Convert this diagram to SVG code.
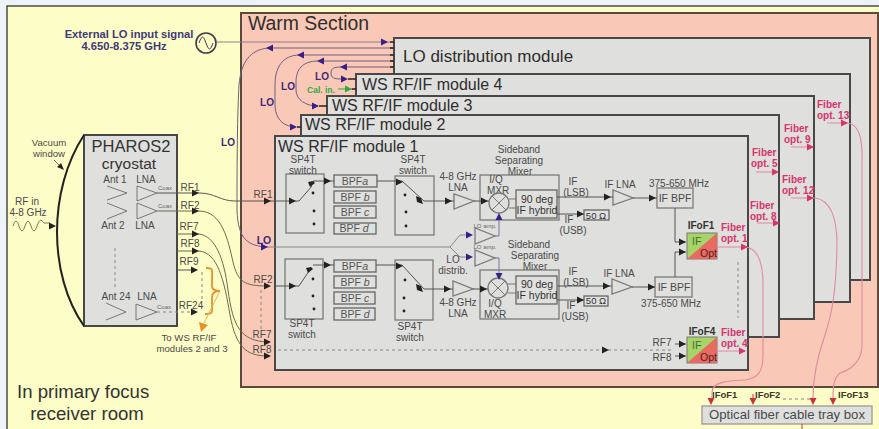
<svg xmlns="http://www.w3.org/2000/svg" width="879" height="429" viewBox="0 0 879 429">
<style>
text{font-family:"Liberation Sans",Arial,sans-serif;fill:#4a4a4a;font-size:10px}
.m{text-anchor:middle}
.b{fill:#dfdfdd;stroke:#484848;stroke-width:2}
.t{fill:#dfdfdd;stroke:#7a7a7a;stroke-width:1.3}
.f{fill:#dfdfdd;stroke:#666;stroke-width:1.3}
.h{font-size:16px;fill:#2e2e2e}
.lo{font-weight:bold;fill:#3f2a78;font-size:10px}
.p{fill:#d8336a;font-size:10px;font-weight:bold}
.s{font-size:6px;fill:#666}
.x{font-size:10.5px}
.bp{font-size:10.5px;fill:#555}
.c{fill:none;stroke:#777;stroke-width:1}
.cv{fill:none;stroke:#6f5f80;stroke-width:1}
.cr{fill:none;stroke:#6b6b50;stroke-width:1}
.cp{fill:none;stroke:#e08aa0;stroke-width:1.1}
.cd{fill:none;stroke:#888;stroke-width:1;stroke-dasharray:3 3}
.k{fill:#222}.v{fill:#3a1f8a}.r{fill:#d8336a}.d{fill:#c8323c}.g{fill:#2da84a}.o{fill:#e8912a}
.n{fill:#222}
.lb{font-size:9.6px}
.ik{font-weight:bold;font-size:9.500px;fill:#3a3a2a}
</style>
<defs>
<path id="a" d="M-7-3.5L0 0L-7 3.5z"/>
<path id="l" d="M7-3.5L0 0L7 3.5z"/>
<path id="dn" d="M-3.5-7L0 0L3.5-7z"/>
<path id="up" d="M-3.5 7L0 0L3.5 7z"/>
</defs>
<rect width="879" height="429" fill="#eef3fa"/>
<rect x="7" y="6" width="880" height="430" fill="#fdfdc8" stroke="#222" stroke-width="1.2"/>
<g id="warm">
<rect x="241" y="13" width="637" height="374" fill="#fac8b6" stroke="#5a4a3c" stroke-width="2"/>
<text x="248" y="30" style="font-size:19.4px;fill:#2e2e2e">Warm Section</text>
</g>
<g id="room"><text x="17" y="398" style="font-size:18.6px;fill:#333">In primary focus</text><text x="87" y="420" class="m" style="font-size:18.6px;fill:#333">receiver room</text></g>
<g id="ext-lo"><text x="129" y="38" class="m" style="font-size:11.2px;font-weight:bold;fill:#3f3a78">External LO input signal</text><text x="124" y="50" class="m" style="font-size:11.2px;font-weight:bold;fill:#3f3a78">4.650-8.375 GHz</text>
<circle cx="206" cy="43" r="10" fill="none" stroke="#443a50" stroke-width="1.6"/><path d="M199 43q3.500-12 7 0t7 0" fill="none" stroke="#443a50"/></g>
<g id="lo-dist"><rect class="b" x="394" y="38" width="476" height="242"/><text class="h" x="403" y="62" style="font-size:17px">LO distribution module</text></g>
<g id="mod4"><rect class="b" x="356" y="74" width="494" height="228"/><text class="h" x="362" y="90">WS RF/IF module 4</text></g>
<g id="mod3"><rect class="b" x="327" y="96" width="487" height="223"/><text class="h" x="332" y="111">WS RF/IF module 3</text></g>
<g id="mod2"><rect class="b" x="301" y="115" width="478" height="222"/><text class="h" x="305" y="130">WS RF/IF module 2</text></g>
<g id="mod1"><rect class="b" x="275" y="136" width="473" height="234"/><text class="h" x="278" y="152">WS RF/IF module 1</text></g>
<g id="cryostat">
<path d="M84 135L177 135L177 326L84 326Z" class="b"/>
<path d="M84 135C48 190 48 275 84 326" fill="none" stroke="#222" stroke-width="2"/>
<text x="131" y="152" class="m" style="font-size:16.500px;fill:#333">PHAROS2</text><text x="129" y="169" class="m" style="font-size:15.500px;fill:#333">cryostat</text>
<text x="115" y="183" class="m">Ant 1</text><text x="146" y="183" class="m">LNA</text>
<text x="113" y="229" class="m">Ant 2</text><text x="145" y="229" class="m">LNA</text>
<text x="116" y="300" class="m">Ant 24</text><text x="147" y="300" class="m">LNA</text>
<path class="c" d="M107 186L127 193L107 200M107 203L127 211L107 219M106 303L126 312L106 320M137 186V201L157 193ZM137 203V219L157 211ZM136 304V320L157 312Z"/>
<path class="cd" d="M115 248V290"/>
<text x="158" y="190" class="s">Coax</text><text x="158" y="208" class="s">Coax</text><text x="157" y="309" class="s">Coax</text>
</g>
<g id="vac"><text x="49" y="146" class="m lb">Vacuum</text><text x="49" y="157" class="m lb">window</text>
<text x="27" y="205" class="m">RF in</text><text x="28" y="216" class="m">4-8 GHz</text>
<path class="c" d="M54 160L62 168"/><path class="k" d="M64 170L57 167L61 163z"/>
<path d="M13 226q3-10 6 0t6 0t6 0t6 0t7-3H50" fill="none" stroke="#7a7a50"/><use href="#a" class="k" x="56" y="226"/></g>
<g id="rf-labels">
<text x="190" y="191" class="m">RF1</text><text x="190" y="209" class="m">RF2</text><text x="189" y="230" class="m">RF7</text><text x="190" y="247" class="m">RF8</text><text x="189" y="265" class="m">RF9</text><text x="191" y="309" class="m">RF24</text>
<text x="263" y="198" class="m">RF1</text><text x="263" y="283" class="m">RF2</text><text x="262" y="338" class="m">RF7</text><text x="262" y="353" class="m">RF8</text>
<text x="264" y="244" class="lo m" style="font-size:10.500px">LO</text>
<text x="189" y="341" class="m lb">To WS RF/IF</text><text x="192" y="352" class="m lb">modules 2 and 3</text>
</g>
<g id="upper-chain">
<rect class="t" x="286" y="174" width="38" height="59" style="fill:none"/>
<rect class="t" x="395" y="176" width="39" height="59" style="fill:none"/>
<text x="303" y="163" class="m">SP4T</text><text x="303" y="174" class="m">switch</text>
<text x="413" y="163" class="m">SP4T</text><text x="413" y="174" class="m">switch</text>
<rect class="f" x="334" y="175" width="43" height="12"/><rect class="f" x="334" y="191" width="42" height="12"/><rect class="f" x="334" y="206" width="42" height="12"/><rect class="f" x="334" y="223" width="42" height="11"/>
<text x="355" y="185" class="m bp">BPF<tspan font-style="italic">a</tspan></text><text x="355" y="201" class="m bp">BPF <tspan font-style="italic">b</tspan></text><text x="355" y="216" class="m bp">BPF <tspan font-style="italic">c</tspan></text><text x="354" y="232" class="m bp">BPF <tspan font-style="italic">d</tspan></text>
<text x="458" y="180" class="m">4-8 GHz</text><text x="458" y="191" class="m">LNA</text>
<path class="t" style="fill:none" d="M454 194V209L474 201Z"/>
<rect class="t" x="480" y="175" width="79" height="45" style="fill:none"/>
<text x="519" y="153" class="m">Sideband</text><text x="519" y="164" class="m">Separating</text><text x="520" y="175" class="m">Mixer</text>
<text x="496" y="183" class="m">I/Q</text><text x="498" y="194" class="m">MXR</text>
<circle cx="499" cy="203" r="10" class="t" style="fill:none"/><path class="c" d="M492 196L506 210M506 196L492 210M509 199H517M509 208H517"/>
<rect class="f" x="516" y="190" width="41" height="28"/>
<text x="537" y="203" class="m x" style="fill:#333">90 deg</text><text x="537" y="214" class="m x" style="fill:#333">IF hybrid</text>
<text x="573" y="185" class="m">IF</text><text x="576" y="196" class="m">(LSB)</text><text x="569" y="223" class="m">IF</text><text x="573" y="234" class="m">(USB)</text>
<rect class="f" x="584" y="210" width="25" height="10"/><text x="596" y="219" class="m" style="font-size:9.500px;fill:#333">50 Ω</text>
<text x="620" y="188" class="m">IF LNA</text><path class="t" d="M613 190V205L633 198Z"/>
<text x="679" y="187" class="m">375-650 MHz</text><rect class="t" x="657" y="188" width="36" height="20"/><text x="675" y="202" class="m x">IF BPF</text>
<text x="485" y="228" class="m s">LO amp.</text><path class="t" d="M475 228V244L495 236Z"/>
<text x="485" y="249" class="m s">LO amp.</text><path class="t" d="M475 250V266L495 258Z"/>
<text x="453" y="263" class="m">LO</text><text x="453" y="274" class="m">distrib.</text>
</g>
<g id="lower-chain">
<rect class="t" x="285" y="259" width="38" height="60" style="fill:none"/>
<rect class="t" x="395" y="260" width="38" height="60" style="fill:none"/>
<text x="302" y="327" class="m">SP4T</text><text x="302" y="338" class="m">switch</text>
<text x="410" y="330" class="m">SP4T</text><text x="410" y="341" class="m">switch</text>
<rect class="f" x="334" y="260" width="42" height="12"/><rect class="f" x="334" y="276" width="42" height="12"/><rect class="f" x="334" y="292" width="41" height="12"/><rect class="f" x="334" y="308" width="41" height="12"/>
<text x="355" y="270" class="m bp">BPF<tspan font-style="italic">a</tspan></text><text x="355" y="286" class="m bp">BPF <tspan font-style="italic">b</tspan></text><text x="355" y="302" class="m bp">BPF <tspan font-style="italic">c</tspan></text><text x="355" y="318" class="m bp">BPF <tspan font-style="italic">d</tspan></text>
<text x="458" y="306" class="m">4-8 GHz</text><text x="458" y="317" class="m">LNA</text>
<path class="t" style="fill:none" d="M453 281V296L473 289Z"/>
<rect class="t" x="480" y="270" width="79" height="49" style="fill:none"/>
<text x="529" y="248" class="m">Sideband</text><text x="535" y="259" class="m">Separating</text><text x="535" y="270" class="m">Mixer</text>
<text x="495" y="307" class="m">I/Q</text><text x="495" y="318" class="m">MXR</text>
<circle cx="498" cy="288" r="10" class="t" style="fill:none"/><path class="c" d="M491 281L505 295M505 281L491 295M508 284H516M508 293H516"/>
<rect class="f" x="516" y="276" width="41" height="28"/>
<text x="537" y="288" class="m x" style="fill:#333">90 deg</text><text x="537" y="299" class="m x" style="fill:#333">IF hybrid</text>
<text x="573" y="275" class="m">IF</text><text x="576" y="286" class="m">(LSB)</text><text x="571" y="309" class="m">IF</text><text x="575" y="320" class="m">(USB)</text>
<rect class="f" x="584" y="296" width="24" height="10"/><text x="596" y="304" class="m" style="font-size:9.500px;fill:#333">50 Ω</text>
<text x="619" y="277" class="m">IF LNA</text><path class="t" d="M612 279V294L632 287Z"/>
<rect class="t" x="655" y="277" width="37" height="20"/><text x="674" y="291" class="m x">IF BPF</text>
<text x="671" y="307" class="m">375-650 MHz</text>
<text x="662" y="346" class="m">RF7</text><text x="662" y="361" class="m">RF8</text>
</g>
<g id="ifof1"><rect x="687" y="233" width="30" height="26" fill="#a6d468" stroke="#777"/><path d="M717 233V259H687Z" fill="#e86a60"/><text x="692" y="245" style="font-size:10.500px;fill:#4a6a30">IF</text><text x="700" y="257" style="font-size:10.500px;fill:#5a2020">Opt</text><text x="701" y="229" class="m" style="font-weight:bold;font-size:10px;fill:#333">IFoF1</text></g>
<g id="ifof4"><rect x="687" y="337" width="30" height="26" fill="#a6d468" stroke="#777"/><path d="M717 337V363H687Z" fill="#e86a60"/><text x="692" y="349" style="font-size:10.500px;fill:#4a6a30">IF</text><text x="700" y="361" style="font-size:10.500px;fill:#5a2020">Opt</text><text x="702" y="335" class="m" style="font-weight:bold;font-size:10px;fill:#333">IFoF4</text></g>
<g id="fiber-labels">
<text class="p" x="721" y="231">Fiber</text><text class="p" x="721" y="242">opt. 1</text>
<text class="p" x="721" y="336">Fiber</text><text class="p" x="721" y="347">opt. 4</text>
<text class="p" x="752" y="156">Fiber</text><text class="p" x="751" y="167">opt. 5</text>
<text class="p" x="750" y="209">Fiber</text><text class="p" x="750" y="220">opt. 8</text>
<text class="p" x="784" y="132">Fiber</text><text class="p" x="784" y="143">opt. 9</text>
<text class="p" x="782" y="183">Fiber</text><text class="p" x="782" y="194">opt. 12</text>
<text class="p" x="817" y="108">Fiber</text><text class="p" x="817" y="119">opt. 13</text>
<text x="712" y="398" class="ik">IFoF1</text><text x="755" y="398" class="ik">IFoF2</text><text x="838" y="398" class="ik">IFoF13</text>
</g>
<g id="tray"><rect x="702" y="406" width="170" height="18" fill="#dfdfdd" stroke="#999" stroke-width="1.300"/><text x="787" y="419" class="m" style="font-size:13.200px">Optical fiber cable tray box</text></g>
<g id="lo-labels"><text x="322" y="80" class="lo m">LO</text><text x="288" y="90" class="lo m">LO</text><text x="267" y="106" class="lo m">LO</text><text x="228" y="146" class="lo m">LO</text><text x="321" y="93" class="m" style="font-size:8.500px;font-weight:bold;fill:#2da84a">Cal. in.</text></g>
<g id="connectors">
<path d="M217 42H390" fill="none" stroke="#8a7f90"/>
<path class="cv" d="M394 48H268C250 50 241 62 239 85C237 120 237 180 237 210C238 240 248 246 268 247"/>
<path class="cv" d="M394 55H300C282 55 275 68 275 85V105C275 120 285 127 296 127"/>
<path class="cv" d="M394 61H318C302 61 296 70 296 82V90C296 100 306 106 318 106"/>
<path class="cv" d="M394 67H340C332 67 331 70 331 73C331 78 334 79 342 79"/>
<path fill="none" stroke="#2da84a" d="M338 89H352"/>
<g class="v"><use href="#a" x="388" y="42"/><use href="#l" x="266" y="48"/><use href="#l" x="297" y="55"/><use href="#l" x="317" y="61"/><use href="#l" x="340" y="67"/><use href="#a" x="297" y="127"/><use href="#a" x="319" y="106"/><use href="#a" x="348" y="79"/><use href="#a" x="268" y="247"/></g>
<use href="#a" class="g" x="352" y="89"/>
<path d="M390 42H394M390 48H394M390 55H394M390 61H394M390 67H394M297 127H301M319 106H327M348 79H356M352 89H356" stroke="#222" fill="none" stroke-width="1.500"/>
<path d="M268 247H450L460 235H468M450 247L460 257H468" fill="none" stroke="#888"/>
<path d="M495 236H499V219M495 258H499V274" fill="none" stroke="#7a70a0"/>
<g class="v"><use href="#a" x="473" y="235"/><use href="#a" x="473" y="257"/><use href="#up" x="499" y="213"/><use href="#dn" x="499" y="280"/></g>
<path class="c" style="stroke:#555" d="M157 193H199C215 193 220 201 235 201H275H299L312 186M313 181H334M377 181H402L424 201H454M474 201H489M557 197H613M633 198H657M557 214H584"/>
<path class="c" style="stroke:#555" d="M275 286H299L311 268M313 265H334M376 265H402L424 289H453M473 289H488M557 286H612M632 287H655M557 300H584"/>
<path class="c" style="stroke:#555" d="M675 208V242H686M675 277V252H686M675 344H686M675 356H686"/>
<path class="cr" d="M157 211H199C222 211 228 240 233 262C238 282 244 286 268 286"/>
<path class="cr" d="M177 234H199C215 236 224 258 228 290C233 326 240 341 268 342"/>
<path class="cr" d="M177 251H199C218 253 224 280 230 315C236 346 245 356 268 356"/>
<path class="c" style="stroke:#555" d="M177 270H195"/>
<path class="cd" d="M157 312H195M202 272V300M261 290V332"/>
<path class="cd" d="M278 350H672M738 262V318M783 399H810"/>
<path d="M206 268C214 268 212 270 212 280V286C212 290 216 291 220 291C216 291 212 292 212 297V304C212 312 214 314 205 314" fill="none" stroke="#e8912a" stroke-width="1.800"/>
<path d="M220 291L204 323" fill="none" stroke="#e8b060"/><path class="o" d="M201 332L199 322L208 325z"/>
<g class="k"><use href="#a" x="199" y="193"/><use href="#a" x="199" y="211"/><use href="#a" x="199" y="234"/><use href="#a" x="199" y="251"/><use href="#a" x="198" y="270"/><use href="#a" x="198" y="312"/>
<use href="#a" x="271" y="201"/><use href="#a" x="271" y="286"/><use href="#a" x="271" y="342"/><use href="#a" x="271" y="356"/>
<use href="#a" x="296" y="201"/><use href="#a" x="296" y="286"/><use href="#a" x="331" y="181"/><use href="#a" x="331" y="265"/><use href="#a" x="403" y="182"/><use href="#a" x="403" y="266"/>
<use href="#a" x="452" y="201"/><use href="#a" x="451" y="289"/><use href="#a" x="488" y="201"/><use href="#a" x="487" y="289"/><use href="#a" x="611" y="197"/><use href="#a" x="610" y="286"/><use href="#a" x="656" y="198"/><use href="#a" x="655" y="287"/><use href="#a" x="584" y="214"/><use href="#a" x="584" y="300"/>
<use href="#a" x="686" y="242"/><use href="#a" x="686" y="252"/><use href="#a" x="686" y="344"/><use href="#a" x="686" y="356"/><use href="#a" x="609" y="350"/></g>
<path class="n" d="M313 181l-5 1l2 5l5-4zM311 267l-5 1l2 5l5-4zM421 198l-5-2l1 6l6 2zM421 286l-5-2l1 6l6 2z"/>
<g class="n"><circle cx="313" cy="193" r="1.400"/><circle cx="314" cy="211" r="1.400"/><circle cx="314" cy="224" r="1.400"/><circle cx="405" cy="195" r="1.400"/><circle cx="406" cy="212" r="1.400"/><circle cx="406" cy="226" r="1.400"/><circle cx="313" cy="279" r="1.400"/><circle cx="313" cy="296" r="1.400"/><circle cx="314" cy="309" r="1.400"/><circle cx="405" cy="280" r="1.400"/><circle cx="404" cy="298" r="1.400"/><circle cx="404" cy="311" r="1.400"/></g>
<path class="cp" d="M717 247H745C758 248 763 262 763 285V355C763 372 758 378 745 380C725 381 713 382 712 392V399"/>
<path class="cp" d="M717 351H745M756 172H777M757 223H778M791 147H813M791 198H815C830 200 837 215 837 245C836 290 833 310 825 335C818 355 813 375 813 398"/>
<path class="cp" d="M827 123H848C858 125 863 135 862 165V345C862 362 850 370 840 373C834 378 833 385 833 398"/>
<g class="r"><use href="#a" x="748" y="247"/><use href="#a" x="746" y="351"/><use href="#a" x="779" y="172"/><use href="#a" x="780" y="223"/><use href="#a" x="814" y="147"/><use href="#a" x="814" y="198"/><use href="#a" x="848" y="123"/></g>
<g class="d"><use href="#dn" x="711" y="405"/><use href="#dn" x="753" y="405"/><use href="#dn" x="813" y="405"/><use href="#dn" x="833" y="405"/></g>
<path d="M753 394V400M802 424V429" stroke="#c8323c" fill="none"/>
</g>
</svg>
